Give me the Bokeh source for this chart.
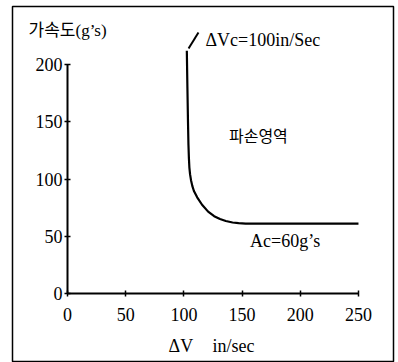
from bokeh.plotting import figure
from bokeh.models import Range1d, LinearAxis, FixedTicker
from bokeh.core.properties import value
from bokeh.embed import file_html
from bokeh.resources import INLINE

# critical curve: delta V (in/sec) vs acceleration (g's)
dv = [102.5, 103, 103.5, 103.9, 104.3, 104.7, 105.3, 106.1, 107.2, 108.6, 111.4, 115.6,
      120.8, 126, 131, 136, 141.8, 147, 153, 250]
acc = [212, 180, 150, 130, 118, 110, 104, 99, 94, 89.5, 84, 77.5,
       71.5, 67.5, 65, 63.3, 62, 61.4, 61, 61]

x_ticks = [0, 50, 100, 150, 200, 250]
y_ticks = [0, 50, 100, 150, 200]

# pointer stroke towards the ΔVc label
ptr_x = [104, 112.5]
ptr_y = [214, 228]

SERIF = "'Liberation Serif', 'Noto Sans CJK KR', serif"

p = figure(width=398, height=362, output_backend="svg", toolbar_location=None,
           x_range=Range1d(-47.3, 280.1), y_range=Range1d(-60.3, 250.7),
           x_axis_location=None, y_axis_location=None,
           min_border_left=12, min_border_right=5, min_border_top=6, min_border_bottom=0)
p.grid.visible = False
p.outline_line_color = "black"
p.outline_line_width = 1.5
p.background_fill_color = "white"
p.border_fill_color = "white"

xa = LinearAxis(fixed_location=0, ticker=FixedTicker(ticks=x_ticks), bounds=(0, 250))
ya = LinearAxis(fixed_location=0, ticker=FixedTicker(ticks=y_ticks), bounds=(0, 200))
for ax, standoff in ((xa, 12), (ya, 2)):
    ax.axis_line_width = 2
    ax.axis_line_color = "black"
    ax.major_tick_line_color = "black"
    ax.major_tick_line_width = 1.5
    ax.major_tick_in = 3
    ax.major_tick_out = 3
    ax.minor_tick_line_color = None
    ax.major_label_text_font = "Liberation Serif"
    ax.major_label_text_font_size = "18px"
    ax.major_label_text_color = "black"
    ax.major_label_standoff = standoff
p.add_layout(xa, "below")
p.add_layout(ya, "left")

p.line(dv, acc, line_color="black", line_width=2.2)
p.line(ptr_x, ptr_y, line_color="black", line_width=2)

p.text(x=[-33.5], y=[230], text=["가속도(g’s)"], text_font=value(SERIF),
       text_font_size="17px", text_baseline="middle", text_align="left")
p.text(x=[118.5], y=[221], text=["ΔVc=100in/Sec"], text_font=value(SERIF),
       text_font_size="18px", text_baseline="middle", text_align="left")
p.text(x=[164], y=[137], text=["파손영역"], text_font=value(SERIF),
       text_font_size="16px", text_baseline="middle", text_align="center")
p.text(x=[187], y=[46], text=["Ac=60g’s"], text_font=value(SERIF),
       text_font_size="18px", text_baseline="middle", text_align="center")
p.text(x=[86.8, 124.6], y=[-45.8, -45.8], text=["ΔV", "in/sec"], text_font=value(SERIF),
       text_font_size="18px", text_baseline="middle", text_align="left")

open("out.html", "w").write(file_html(p, INLINE))
